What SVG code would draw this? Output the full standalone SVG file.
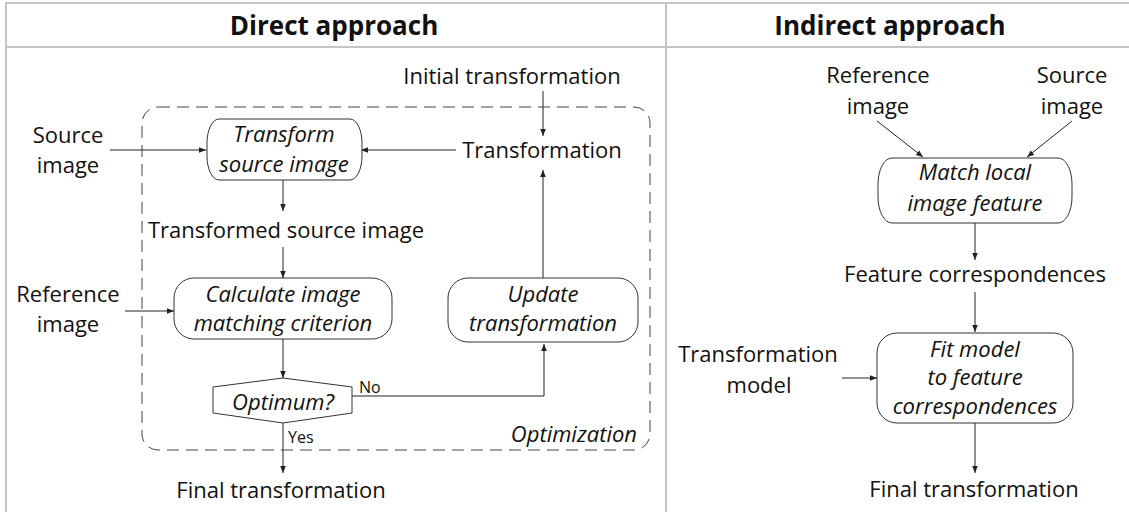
<svg xmlns="http://www.w3.org/2000/svg" width="1129" height="512" viewBox="0 0 1129 512">
<style>
.grid{stroke:#c4c4c4;stroke-width:2;fill:none}
.t{font-family:"Open Sans","Noto Sans",sans-serif;font-size:22px;fill:#111;text-anchor:middle}
.i{font-style:italic}
.h{font-family:"Open Sans","Noto Sans",sans-serif;font-size:26px;font-weight:bold;fill:#111;text-anchor:middle}
.s{font-family:"Open Sans","Noto Sans",sans-serif;font-size:16px;fill:#111}
.box{fill:#fff;stroke:#333;stroke-width:1}
.c{stroke:#222;stroke-width:1;fill:none;marker-end:url(#a)}
</style>
<defs>
<marker id="a" viewBox="0 0 10 10" refX="10" refY="5" markerWidth="7" markerHeight="7" markerUnits="userSpaceOnUse" orient="auto">
<path d="M0,1 L10,5 L0,9 z" fill="#222"/>
</marker>
</defs>
<rect width="1129" height="512" fill="#fff"/>
<g id="frame">
<line class="grid" x1="5" y1="3" x2="1129" y2="3"/>
<line class="grid" x1="5" y1="47" x2="1129" y2="47"/>
<line class="grid" x1="6" y1="3" x2="6" y2="512"/>
<line class="grid" x1="666" y1="3" x2="666" y2="512"/>
<text class="h" x="334" y="35">Direct approach</text>
<text class="h" x="890" y="35">Indirect approach</text>
</g>
<g id="optimization">
<rect x="142" y="107" width="508" height="343" rx="16" ry="16" fill="none" stroke="#444" stroke-width="1" stroke-dasharray="12,7"/>
<text class="t i" x="637" y="442" style="text-anchor:end">Optimization</text>
</g>
<g id="connectors">
<line class="c" x1="543" y1="91" x2="543" y2="136"/>
<line class="c" x1="110" y1="150" x2="206" y2="150"/>
<line class="c" x1="456" y1="150" x2="361" y2="150"/>
<line class="c" x1="283" y1="180" x2="283" y2="211"/>
<line class="c" x1="283" y1="247" x2="283" y2="278"/>
<line class="c" x1="125" y1="311" x2="174" y2="311"/>
<line class="c" x1="283" y1="339" x2="283" y2="378"/>
<polyline class="c" points="352,396 544,396 544,344"/>
<line class="c" x1="543" y1="278" x2="543" y2="170"/>
<line class="c" x1="283" y1="423" x2="283" y2="473"/>
<line class="c" x1="877" y1="121" x2="923" y2="157"/>
<line class="c" x1="1072" y1="121" x2="1027" y2="157"/>
<line class="c" x1="975" y1="223" x2="975" y2="260"/>
<line class="c" x1="975" y1="292" x2="975" y2="332"/>
<line class="c" x1="842" y1="378" x2="877" y2="378"/>
<line class="c" x1="975" y1="423" x2="975" y2="473"/>
<text class="s" x="359" y="393">No</text>
<text class="s" x="288" y="443">Yes</text>
</g>
<g id="initial-transformation"><text class="t" x="512" y="84">Initial transformation</text></g>
<g id="transformation"><text class="t" x="542" y="158">Transformation</text></g>
<g id="source-image"><text class="t" x="68" y="143">Source</text><text class="t" x="68" y="173">image</text></g>
<g id="transform-source">
<rect class="box" x="207" y="119" width="155" height="61" rx="12" ry="24"/>
<text class="t i" x="284" y="142">Transform</text><text class="t i" x="284" y="172">source image</text>
</g>
<g id="transformed-source"><text class="t" x="286" y="238">Transformed source image</text></g>
<g id="reference-image"><text class="t" x="68" y="302">Reference</text><text class="t" x="68" y="332">image</text></g>
<g id="calculate">
<rect class="box" x="174" y="278" width="218" height="61" rx="20" ry="20"/>
<text class="t i" x="283" y="302">Calculate image</text><text class="t i" x="283" y="331">matching criterion</text>
</g>
<g id="optimum">
<polygon class="box" points="283,378 352,387 352,413 283,423 213,413 213,387"/>
<text class="t i" x="283" y="410">Optimum?</text>
</g>
<g id="update">
<rect class="box" x="448" y="278" width="190" height="64" rx="20" ry="20"/>
<text class="t i" x="543" y="302">Update</text><text class="t i" x="543" y="331">transformation</text>
</g>
<g id="final-direct"><text class="t" x="281" y="498">Final transformation</text></g>
<g id="ref-image-r"><text class="t" x="878" y="83">Reference</text><text class="t" x="878" y="114">image</text></g>
<g id="src-image-r"><text class="t" x="1072" y="83">Source</text><text class="t" x="1072" y="114">image</text></g>
<g id="match">
<rect class="box" x="878" y="158" width="194" height="65" rx="14" ry="26"/>
<text class="t i" x="975" y="180">Match local</text><text class="t i" x="975" y="211">image feature</text>
</g>
<g id="feature-corr"><text class="t" x="975" y="282">Feature correspondences</text></g>
<g id="transformation-model"><text class="t" x="758" y="362">Transformation</text><text class="t" x="759" y="393">model</text></g>
<g id="fit">
<rect class="box" x="877" y="333" width="196" height="90" rx="20" ry="20"/>
<text class="t i" x="975" y="357">Fit model</text><text class="t i" x="975" y="385">to feature</text><text class="t i" x="975" y="414">correspondences</text>
</g>
<g id="final-indirect"><text class="t" x="974" y="497">Final transformation</text></g>
</svg>
